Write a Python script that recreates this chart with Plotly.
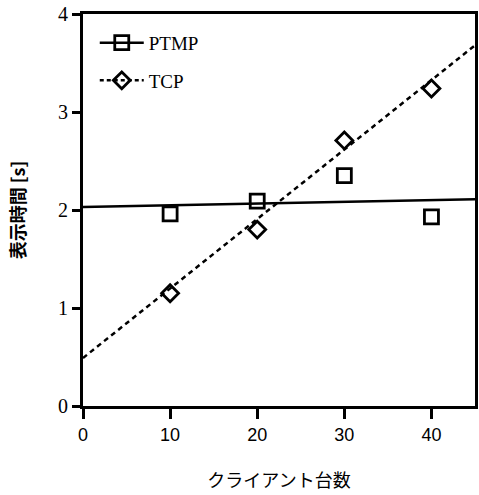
import plotly.graph_objects as go

clients = [10, 20, 30, 40]
ptmp = [1.96, 2.09, 2.35, 1.93]
tcp = [1.15, 1.80, 2.71, 3.24]

fit_x = [0, 45]
ptmp_fit = [2.03, 2.11]
tcp_fit = [0.49, 3.68]

x_ticks = [0, 10, 20, 30, 40]
y_ticks = [0, 1, 2, 3, 4]

fig = go.Figure()
fig.add_trace(go.Scatter(x=fit_x, y=ptmp_fit, mode="lines", line=dict(color="black", width=2.5),
                         showlegend=False, hoverinfo="skip"))
fig.add_trace(go.Scatter(x=fit_x, y=tcp_fit, mode="lines", line=dict(color="black", width=2.5, dash="5px,4px"),
                         showlegend=False, hoverinfo="skip"))
fig.add_trace(go.Scatter(x=clients, y=ptmp, mode="markers", showlegend=False,
                         marker=dict(symbol="square-open", size=14, color="black", line=dict(width=2.8))))
fig.add_trace(go.Scatter(x=clients, y=tcp, mode="markers", showlegend=False,
                         marker=dict(symbol="diamond-open", size=13, color="black", line=dict(width=2.8))))
# legend entries
fig.add_trace(go.Scatter(x=[None], y=[None], mode="lines+markers", name="PTMP", legendgroup="a",
                         line=dict(color="black", width=2.5),
                         marker=dict(symbol="square-open", size=14, color="black", line=dict(width=2.8))))
fig.add_trace(go.Scatter(x=[None], y=[None], mode="lines+markers", name="TCP", legendgroup="b",
                         line=dict(color="black", width=2.5, dash="4px,3px"),
                         marker=dict(symbol="diamond-open", size=13, color="black", line=dict(width=2.8))))

fig.update_layout(
    width=479, height=495,
    margin=dict(l=83, r=1, t=14, b=89),
    plot_bgcolor="white", paper_bgcolor="white",
    showlegend=True,
    legend=dict(x=0.03, y=0.975, xanchor="left", yanchor="top", bgcolor="rgba(0,0,0,0)",
                traceorder="grouped", tracegroupgap=10,
                font=dict(family="Liberation Serif", size=19, color="black"), itemwidth=44),
    xaxis=dict(range=[0, 45], tickvals=x_ticks, ticks="outside", ticklen=10, tickwidth=3, tickcolor="black",
               showline=True, linewidth=3, linecolor="black", mirror=True, showgrid=False, zeroline=False,
               tickfont=dict(family="Liberation Sans", size=18, color="black"),
               title=dict(text="クライアント台数", font=dict(family="Noto Sans CJK JP", size=18, color="black"), standoff=31)),
    yaxis=dict(range=[0, 4], tickvals=y_ticks, ticks="outside", ticklen=8, tickwidth=3, tickcolor="black",
               showline=True, linewidth=3, linecolor="black", mirror=True, showgrid=False, zeroline=False,
               tickfont=dict(family="Liberation Serif", size=20, color="black"),
               title=dict(text="<b>表示時間 [s]</b>", font=dict(family="Noto Sans CJK JP", size=18, color="black"), standoff=28)),
)
fig.write_html("out.html")
